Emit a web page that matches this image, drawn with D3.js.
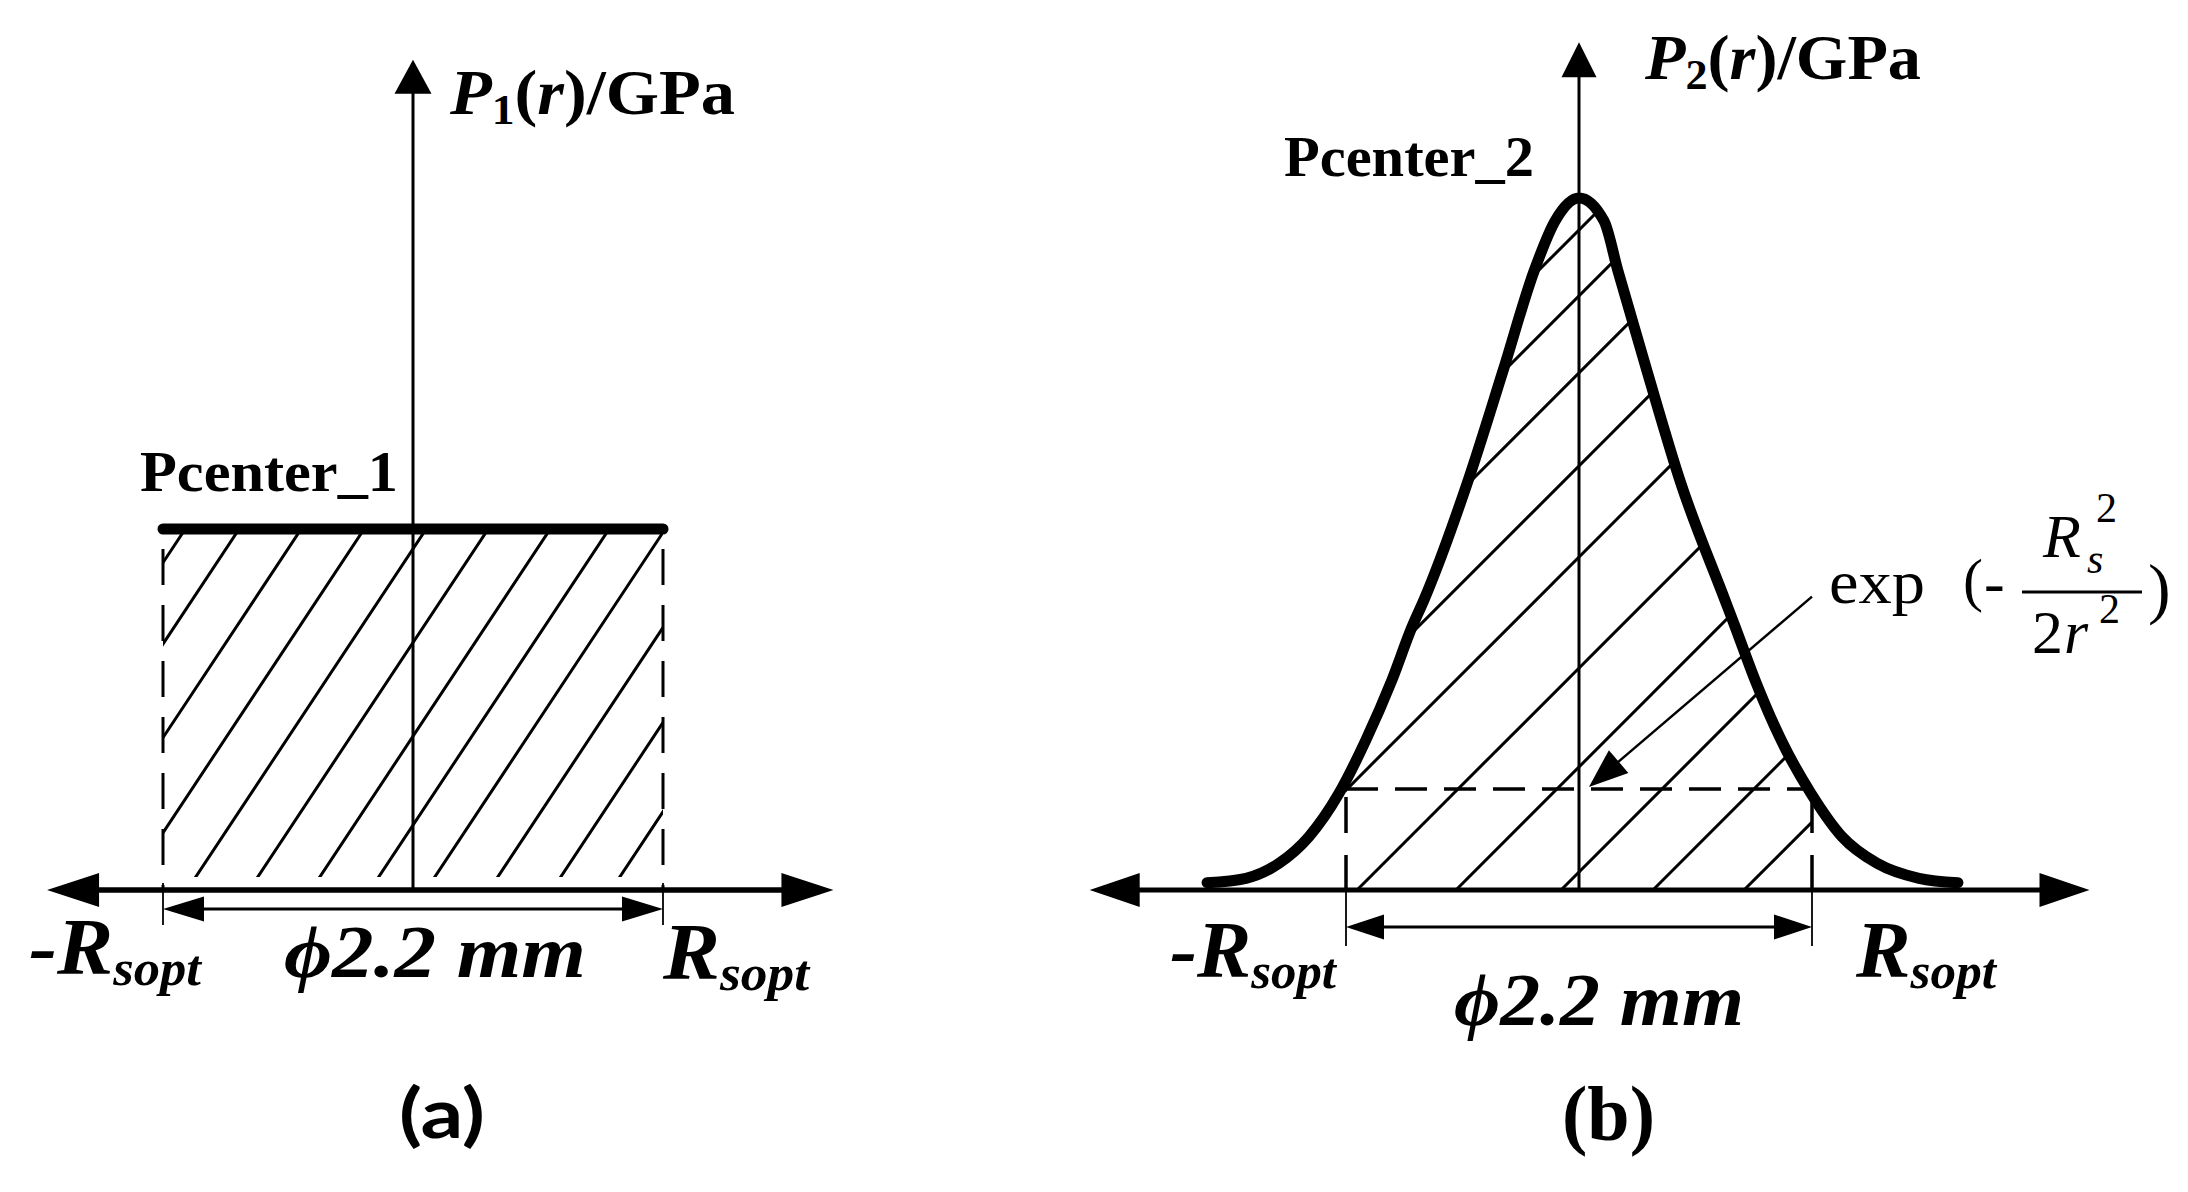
<!DOCTYPE html>
<html>
<head>
<meta charset="utf-8">
<script src="https://cdn.jsdelivr.net/npm/d3@7"></script>
<style>
    body { margin: 0; background: #ffffff; }
    svg { display: block; }
</style>
</head>
<body>
<div id="chart"></div>
<script>

    /*
    DATA (r in mm, P normalised to the centre pressure)
    */
    const rSopt = 1.1;                       // half of the 2.2 mm spot
    const pLevelA = 1.0;                     // flat profile, Pcenter_1
    const pLevelB = 0.146;                   // gaussian value at +-Rsopt

    const axisRA = [-1.61, 1.85];            // panel (a) x axis extent
    const axisTopA = 2.30;                   // panel (a) y axis extent
    const axisRB = [-2.31, 2.41];            // panel (b) x axis extent
    const axisTopB = 1.225;                  // panel (b) y axis extent

    // gaussian profile
    const curveR = [-1.756, -1.572, -1.416, -1.275, -1.133, -1.006, -0.883, -0.788, -0.732, -0.529, -0.359, -0.212, -0.113, 0,
                    0.118, 0.184, 0.321, 0.482, 0.689, 0.737, 0.831, 0.954, 1.095, 1.242, 1.407, 1.605, 1.789];
    const curveP = [0.0105, 0.0169, 0.0386, 0.0770, 0.1397, 0.2168, 0.3035, 0.3805, 0.4191, 0.5867, 0.750, 0.8945, 0.9668, 1.0,
                    0.9668, 0.8945, 0.750, 0.5867, 0.4191, 0.3805, 0.3035, 0.2168, 0.1397, 0.0770, 0.0386, 0.0169, 0.0105];

    // hatch lines: where each line meets P = 0 (mm)
    const hatchA = [-2.054, -1.817, -1.544, -1.267, -0.994, -0.721, -0.448, -0.189, 0.058, 0.335, 0.612, 0.872];
    const hatchB = [-3.116, -2.805, -2.441, -2.002, -1.572, -1.048, -0.581, -0.085, 0.349, 0.779];

    // leader of the formula: start and tip (r, P)
    const leaderR = [1.100, 0.047];
    const leaderP = [0.424, 0.149];

    const curve = curveR.map(function(r, i) { return {r: r, p: curveP[i]}; });

    const serif = "'Liberation Serif', 'Times New Roman', Times, serif";


    /*
    SVG CANVAS
    */
    const width = 2188;
    const height = 1192;

    const svg = d3.select("#chart")
        .append("svg")
        .attr("width", width)
        .attr("height", height);

    const defs = svg.append("defs");


    /*
    SCALES
    */
    const xA = d3.scaleLinear().domain([-rSopt, rSopt]).range([163, 663]);
    const yA = d3.scaleLinear().domain([0, 1]).range([890, 529]);
    const xB = d3.scaleLinear().domain([-rSopt, rSopt]).range([1346, 1812]);
    const yB = d3.scaleLinear().domain([0, 1]).range([890, 198]);


    /*
    HELPERS
    */
    function arrowHead(g, x1, y1, x2, y2, len, half) {
        const a = Math.atan2(y2 - y1, x2 - x1);
        const bx = x2 - len * Math.cos(a);
        const by = y2 - len * Math.sin(a);
        const px = -Math.sin(a) * half;
        const py = Math.cos(a) * half;
        g.append("path")
            .attr("d", `M${x2},${y2}L${bx + px},${by + py}L${bx - px},${by - py}Z`)
            .attr("fill", "#000");
        return [x2 - (len - 2) * Math.cos(a), y2 - (len - 2) * Math.sin(a)];
    }

    function arrowLine(g, x1, y1, x2, y2, len, half, sw) {
        const b = arrowHead(g, x1, y1, x2, y2, len, half);
        g.append("line")
            .attr("x1", x1).attr("y1", y1)
            .attr("x2", b[0]).attr("y2", b[1])
            .attr("stroke", "#000")
            .attr("stroke-width", sw);
    }

    function doubleArrow(g, x1, x2, y, len, half, sw) {
        const b1 = arrowHead(g, x2, y, x1, y, len, half);
        const b2 = arrowHead(g, x1, y, x2, y, len, half);
        g.append("line")
            .attr("x1", b1[0]).attr("y1", y)
            .attr("x2", b2[0]).attr("y2", y)
            .attr("stroke", "#000")
            .attr("stroke-width", sw);
    }

    function vline(g, x, y1, y2, sw, dash) {
        g.append("line")
            .attr("x1", x).attr("y1", y1)
            .attr("x2", x).attr("y2", y2)
            .attr("stroke", "#000")
            .attr("stroke-width", sw)
            .attr("stroke-dasharray", dash || null);
    }

    function txt(parent, x, y, size) {
        return parent.append("text")
            .attr("x", x).attr("y", y)
            .style("font-family", serif)
            .style("font-size", size + "px")
            .attr("fill", "#000");
    }

    function rLabel(x, y, neg, len) {
        const t = txt(svg, x, y, 80)
            .style("font-weight", "bold")
            .style("font-style", "italic")
            .attr("textLength", len)
            .attr("lengthAdjust", "spacingAndGlyphs");
        t.append("tspan").text((neg ? "-" : "") + "R");
        t.append("tspan").attr("dy", 11).style("font-size", "50px").text("sopt");
    }

    function pLabel(x, y, idx, len) {
        const t = txt(svg, x, y, 63)
            .style("font-weight", "bold")
            .attr("textLength", len)
            .attr("lengthAdjust", "spacingAndGlyphs");
        t.append("tspan").style("font-style", "italic").text("P");
        t.append("tspan").attr("dy", 10).style("font-size", "42px").text(idx);
        t.append("tspan").attr("dy", -10).text("(");
        t.append("tspan").style("font-style", "italic").text("r");
        t.append("tspan").text(")/GPa");
    }

    function plainLabel(x, y, s, size, len, style) {
        txt(svg, x, y, size)
            .style("font-weight", "bold")
            .style("font-style", style || "normal")
            .attr("textLength", len)
            .attr("lengthAdjust", "spacingAndGlyphs")
            .text(s);
    }


    /*
    PANEL (a) - FLAT PROFILE
    */
    const gA = svg.append("g");

    defs.append("clipPath").attr("id", "clipA")
        .append("rect")
        .attr("x", xA(-rSopt))
        .attr("y", yA(pLevelA))
        .attr("width", xA(rSopt) - xA(-rSopt))
        .attr("height", yA(0) - 13 - yA(pLevelA));

    // hatch, slope 1.51 in screen space
    gA.append("g")
        .attr("clip-path", "url(#clipA)")
        .selectAll("line")
        .data(hatchA)
        .enter()
        .append("line")
            .attr("x1", function(d) { return xA(d) - 20; })
            .attr("y1", yA(0) + 20 * 1.51)
            .attr("x2", function(d) { return xA(d) + 300; })
            .attr("y2", yA(0) - 300 * 1.51)
            .attr("stroke", "#000")
            .attr("stroke-width", 3)
            .attr("stroke-linecap", "round");

    // edges of the spot
    vline(gA, xA(-rSopt), yA(pLevelA) + 20, yA(0), 3, "36,20");
    vline(gA, xA(rSopt), yA(pLevelA) + 20, yA(0), 3, "36,20");

    // y axis
    arrowLine(gA, xA(0), yA(0), xA(0), yA(axisTopA), 34, 18.5, 3);

    // x axis
    doubleArrow(gA, xA(axisRA[0]), xA(axisRA[1]), yA(0), 52, 17, 5.5);

    // Pcenter_1 level
    gA.append("line")
        .attr("x1", xA(-rSopt)).attr("y1", yA(pLevelA))
        .attr("x2", xA(rSopt)).attr("y2", yA(pLevelA))
        .attr("stroke", "#000")
        .attr("stroke-width", 11)
        .attr("stroke-linecap", "round");

    // dimension
    vline(gA, xA(-rSopt), yA(0) - 7, yA(0) + 35, 1.8);
    vline(gA, xA(rSopt), yA(0) - 7, yA(0) + 35, 1.8);
    doubleArrow(gA, xA(-rSopt), xA(rSopt), yA(0) + 19, 41, 12.5, 3);


    /*
    PANEL (b) - GAUSSIAN PROFILE
    */
    const gB = svg.append("g");

    const line = d3.line()
        .x(function(d) { return xB(d.r); })
        .y(function(d) { return yB(d.p); })
        .curve(d3.curveMonotoneX);

    const area = d3.area()
        .x(function(d) { return xB(d.r); })
        .y0(yB(0))
        .y1(function(d) { return yB(d.p); })
        .curve(d3.curveMonotoneX);

    defs.append("clipPath").attr("id", "clipB1")
        .append("path")
        .attr("d", area(curve));

    defs.append("clipPath").attr("id", "clipB2")
        .append("rect")
        .attr("x", xB(-rSopt))
        .attr("y", 0)
        .attr("width", xB(rSopt) - xB(-rSopt))
        .attr("height", yB(0));

    // hatch at 45 degrees
    gB.append("g")
        .attr("clip-path", "url(#clipB1)")
        .append("g")
        .attr("clip-path", "url(#clipB2)")
        .selectAll("line")
        .data(hatchB)
        .enter()
        .append("line")
            .attr("x1", function(d) { return xB(d); })
            .attr("y1", yB(0))
            .attr("x2", function(d) { return xB(d) + 800; })
            .attr("y2", yB(0) - 800)
            .attr("stroke", "#000")
            .attr("stroke-width", 3);

    // level at +-Rsopt
    gB.append("line")
        .attr("x1", xB(-rSopt)).attr("y1", yB(pLevelB))
        .attr("x2", xB(rSopt)).attr("y2", yB(pLevelB))
        .attr("stroke", "#000")
        .attr("stroke-width", 3.5)
        .attr("stroke-dasharray", "32,17");
    vline(gB, xB(-rSopt), yB(pLevelB) + 8, yB(0), 3.5, "36,22");
    vline(gB, xB(rSopt), yB(pLevelB) + 8, yB(0), 3.5, "36,22");

    // y axis
    arrowLine(gB, xB(0), yB(0), xB(0), yB(axisTopB), 35, 17.5, 3);

    // x axis
    doubleArrow(gB, xB(axisRB[0]), xB(axisRB[1]), yB(0), 50, 17, 5);

    // gaussian curve
    gB.append("path")
        .datum(curve)
        .attr("d", line)
        .attr("fill", "none")
        .attr("stroke", "#000")
        .attr("stroke-width", 11)
        .attr("stroke-linecap", "round")
        .attr("stroke-linejoin", "round");

    // dimension
    vline(gB, xB(-rSopt), yB(0), yB(0) + 56, 1.8);
    vline(gB, xB(rSopt), yB(0), yB(0) + 56, 1.8);
    doubleArrow(gB, xB(-rSopt), xB(rSopt), yB(0) + 37, 38, 12.5, 3);

    // leader to the dashed level
    arrowLine(gB, xB(leaderR[0]), yB(leaderP[0]), xB(leaderR[1]), yB(leaderP[1]), 39, 15, 2.5);


    /*
    TEXT
    */
    pLabel(450, 114, "1", 285);
    pLabel(1645, 79, "2", 276);

    plainLabel(140, 491, "Pcenter_1", 58, 258);
    plainLabel(1284, 176, "Pcenter_2", 58, 250);

    rLabel(29, 974, true, 172);
    rLabel(663, 979, false, 146);
    rLabel(1170, 977, true, 166);
    rLabel(1856, 977, false, 140);

    plainLabel(284, 977, "\u03D52.2 mm", 74, 302, "italic");
    plainLabel(1454, 1025, "\u03D52.2 mm", 74, 290, "italic");

    svg.append("text")
        .attr("x", 399).attr("y", 1138)
        .style("font-family", "Lato, 'Open Sans', sans-serif")
        .style("font-size", "68px")
        .style("font-weight", "bold")
        .attr("textLength", 86)
        .attr("lengthAdjust", "spacingAndGlyphs")
        .text("(a)");

    plainLabel(1562, 1140, "(b)", 78, 93);

    // exp(-Rs^2 / 2r^2)
    const f = svg.append("g");
    txt(f, 1829, 603, 62).attr("textLength", 96).attr("lengthAdjust", "spacingAndGlyphs").text("exp");
    txt(f, 1963, 600, 60).text("(");
    txt(f, 1984, 603, 62).text("-");
    f.append("line")
        .attr("x1", 2022).attr("y1", 592)
        .attr("x2", 2142).attr("y2", 592)
        .attr("stroke", "#000")
        .attr("stroke-width", 2.8);
    txt(f, 2043, 557, 62).style("font-style", "italic").text("R");
    txt(f, 2087, 573, 42).style("font-style", "italic").text("s");
    txt(f, 2096, 522, 42).text("2");
    txt(f, 2032, 653, 62).text("2");
    txt(f, 2064, 653, 62).style("font-style", "italic").text("r");
    txt(f, 2099, 623, 42).text("2");
    txt(f, 2148, 611, 68).text(")");

</script>
</body>
</html>
